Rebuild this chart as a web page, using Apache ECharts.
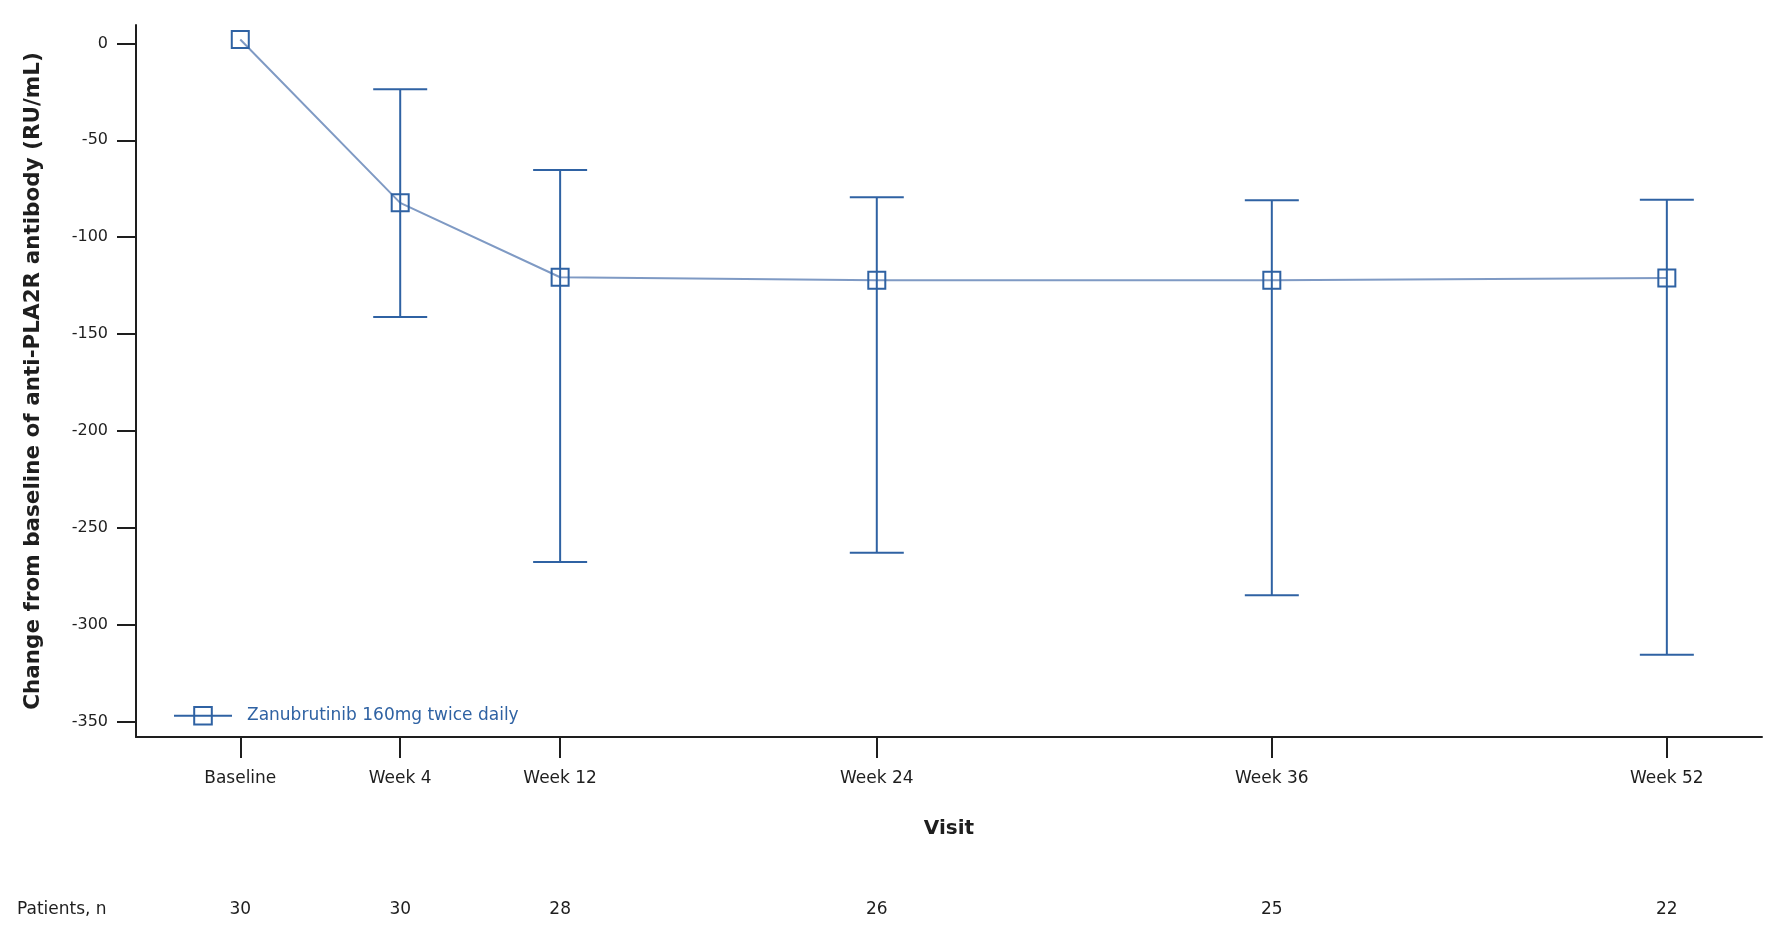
<!DOCTYPE html>
<html>
<head>
<meta charset="utf-8">
<script src="https://cdn.jsdelivr.net/npm/echarts@6/dist/echarts.min.js"></script>
<style>
html,body{margin:0;padding:0;background:#fff;}
#main{width:1791px;height:951px;}
</style>
</head>
<body>
<div id="main"></div>
<script>
// ---- data ----
const visits = ['Baseline', 'Week 4', 'Week 12', 'Week 24', 'Week 36', 'Week 52'];
const visitPos = [0, 1, 2, 3.98, 6.45, 8.92];
const meanChange = [2, -82.3, -120.7, -122.2, -122.2, -121.1];
const upperBar = [null, -23.6, -65.4, -79.4, -81, -80.7];
const lowerBar = [null, -141.2, -267.7, -262.9, -284.9, -315.5];
const patientsN = [30, 30, 28, 26, 25, 22];
const yTicks = [0, -50, -100, -150, -200, -250, -300, -350];
const seriesName = 'Zanubrutinib 160mg twice daily';
const patientsLabel = 'Patients, n';

// ---- styles ----
const FONT = 'DejaVu Sans';
const BLUE = '#2f62a3';
const LINE_BLUE = '#7f9ac4';
const AXIS = '#1e1e1e';

function idxOf(v) {
  let best = 0, bd = Infinity;
  visitPos.forEach((p, i) => { const d = Math.abs(p - v); if (d < bd) { bd = d; best = i; } });
  return best;
}

const lineData = visitPos.map((p, i) => [p, meanChange[i]]);
const barData = [];
visitPos.forEach((p, i) => {
  if (upperBar[i] !== null && lowerBar[i] !== null) barData.push([p, lowerBar[i], upperBar[i]]);
});

const chart = echarts.init(document.getElementById('main'), null, {renderer: 'canvas'});
const option = {
  animation: false,
  backgroundColor: '#fff',
  title: {
    text: patientsLabel, left: 17, top: 900, padding: 0,
    textStyle: {fontFamily: FONT, fontSize: 17, fontWeight: 'normal', color: AXIS, lineHeight: 20}
  },
  grid: {left: 136, right: 29, top: 25, bottom: 214, containLabel: false},
  legend: {
    data: [{name: seriesName, itemStyle: {color: 'rgba(0,0,0,0)', borderColor: BLUE, borderWidth: 2}, lineStyle: {color: BLUE, width: 2}}],
    left: 173, top: 706, padding: 0,
    itemWidth: 58, itemHeight: 22,
    textStyle: {fontFamily: FONT, fontSize: 17, color: BLUE, padding: [0, 0, 0, 10]}
  },
  xAxis: [{
    type: 'value', min: -0.652, max: 9.515,
    name: 'Visit', nameLocation: 'middle', nameGap: 82,
    nameTextStyle: {fontFamily: FONT, fontSize: 20, fontWeight: 'bold', color: AXIS},
    axisLine: {show: true, onZero: false, lineStyle: {color: AXIS, width: 2}},
    axisTick: {show: true, length: 21, lineStyle: {color: AXIS, width: 2}, customValues: visitPos},
    axisLabel: {customValues: visitPos, margin: 33, fontFamily: FONT, fontSize: 17, color: AXIS,
      formatter: v => visits[idxOf(v)]},
    splitLine: {show: false}
  }, {
    type: 'value', min: -0.652, max: 9.515, position: 'bottom', offset: 173,
    axisLine: {show: false}, axisTick: {show: false},
    axisLabel: {customValues: visitPos, margin: 0, verticalAlign: 'middle', fontFamily: FONT, fontSize: 17, color: AXIS,
      formatter: v => String(patientsN[idxOf(v)])},
    splitLine: {show: false}
  }],
  yAxis: {
    type: 'value', min: -358, max: 9.5,
    name: 'Change from baseline of anti-PLA2R antibody (RU/mL)',
    nameLocation: 'middle', nameGap: 92,
    nameTextStyle: {fontFamily: FONT, fontSize: 21.5, fontWeight: 'bold', color: AXIS},
    axisLine: {show: true, onZero: false, lineStyle: {color: AXIS, width: 2}},
    axisTick: {show: true, length: 19, lineStyle: {color: AXIS, width: 2}, customValues: yTicks},
    axisLabel: {customValues: yTicks, margin: 28, fontFamily: FONT, fontSize: 16, color: AXIS},
    splitLine: {show: false}
  },
  series: [{
    name: seriesName, type: 'line', xAxisIndex: 0, data: lineData,
    symbol: 'rect', symbolSize: 17,
    lineStyle: {color: LINE_BLUE, width: 2},
    itemStyle: {color: 'rgba(0,0,0,0)', borderColor: BLUE, borderWidth: 2},
    z: 3
  }, {
    name: 'bars', type: 'custom', xAxisIndex: 0, data: barData,
    encode: {x: 0, y: [1, 2]},
    renderItem: function (params, api) {
      const x = api.value(0);
      const pLo = api.coord([x, api.value(1)]);
      const pHi = api.coord([x, api.value(2)]);
      const w = 27;
      const st = {stroke: BLUE, lineWidth: 2};
      return {type: 'group', children: [
        {type: 'line', shape: {x1: pHi[0], y1: pHi[1], x2: pLo[0], y2: pLo[1]}, style: st},
        {type: 'line', shape: {x1: pHi[0] - w, y1: pHi[1], x2: pHi[0] + w, y2: pHi[1]}, style: st},
        {type: 'line', shape: {x1: pLo[0] - w, y1: pLo[1], x2: pLo[0] + w, y2: pLo[1]}, style: st}
      ]};
    },
    z: 4
  }]
};
chart.setOption(option);
</script>
</body>
</html>
